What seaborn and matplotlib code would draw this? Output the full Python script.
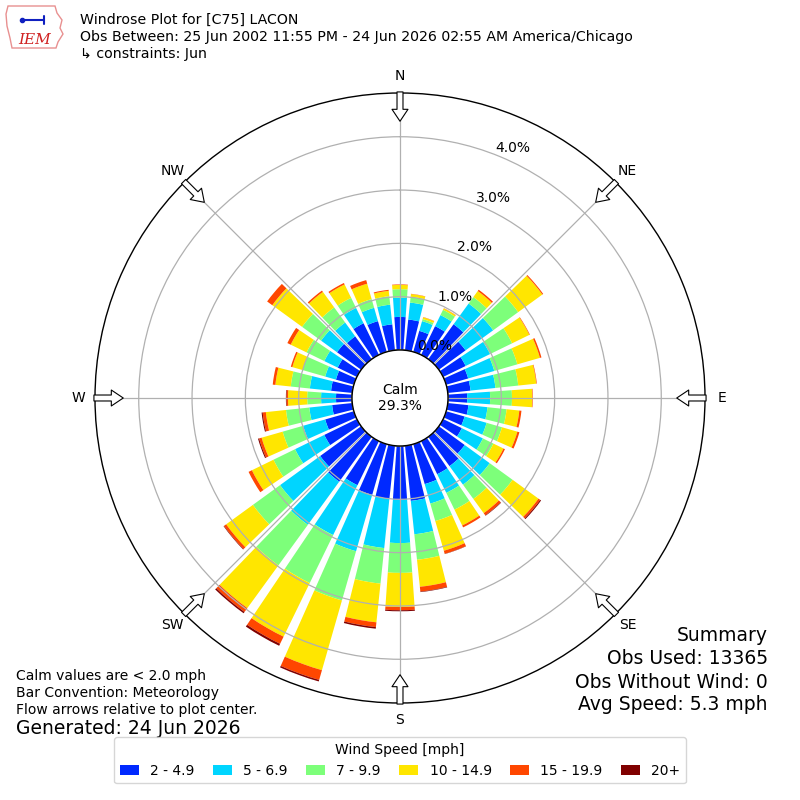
import numpy as np
import matplotlib
matplotlib.use('Agg')
import matplotlib.pyplot as plt
import seaborn as sns
from matplotlib.patches import Circle, Polygon

# wind direction (deg, "from"), 10 degree bins
directions = [0, 10, 20, 30, 40, 50, 60, 70, 80, 90, 100, 110,
              120, 130, 140, 150, 160, 170, 180, 190, 200, 210, 220, 230,
              240, 250, 260, 270, 280, 290, 300, 310, 320, 330, 340, 350]

speed_bins = ['2 - 4.9', '5 - 6.9', '7 - 9.9', '10 - 14.9', '15 - 19.9', '20+']

# frequency (%) per direction for each speed bin
pct_2_5 = [0.62, 0.58, 0.41, 0.60, 0.81, 0.62, 0.47, 0.43, 0.43, 0.36, 0.39, 0.36,
           0.39, 0.60, 0.68, 0.69, 0.78, 1.04, 1.01, 1.00, 0.99, 0.92, 1.04, 0.95,
           0.68, 0.56, 0.38, 0.30, 0.40, 0.35, 0.40, 0.56, 0.53, 0.66, 0.60, 0.49]
pct_5_7 = [0.36, 0.32, 0.19, 0.23, 0.48, 0.64, 0.51, 0.51, 0.47, 0.43, 0.36, 0.43,
           0.44, 0.58, 0.43, 0.39, 0.38, 0.63, 0.81, 0.93, 1.10, 1.04, 1.00, 0.93,
           0.61, 0.43, 0.43, 0.28, 0.40, 0.21, 0.28, 0.37, 0.32, 0.32, 0.26, 0.37]
pct_7_10 = [0.16, 0.11, 0.04, 0.11, 0.15, 0.58, 0.46, 0.45, 0.43, 0.41, 0.36, 0.30,
            0.22, 0.53, 0.33, 0.35, 0.34, 0.48, 0.56, 0.67, 0.96, 1.00, 0.94, 0.63,
            0.45, 0.40, 0.44, 0.26, 0.36, 0.44, 0.37, 0.44, 0.35, 0.21, 0.17, 0.16]
pct_10_15 = [0.08, 0.05, 0.035, 0.03, 0.14, 0.56, 0.36, 0.44, 0.34, 0.38, 0.24, 0.30,
             0.21, 0.60, 0.33, 0.33, 0.58, 0.51, 0.64, 0.73, 1.36, 1.12, 0.99, 0.62,
             0.45, 0.41, 0.38, 0.36, 0.29, 0.20, 0.33, 0.69, 0.36, 0.28, 0.30, 0.10]
pct_15_20 = [0.01, 0.005, 0.005, 0.005, 0.03, 0.02, 0.01, 0.03, 0.01, 0.01, 0.04, 0.04,
             0.03, 0.04, 0.05, 0.04, 0.06, 0.09, 0.06, 0.09, 0.19, 0.15, 0.09, 0.05,
             0.07, 0.05, 0.06, 0.03, 0.05, 0.03, 0.07, 0.12, 0.03, 0.03, 0.07, 0.02]
pct_20_up = [0, 0, 0, 0, 0, 0, 0, 0, 0, 0, 0, 0,
             0, 0.02, 0.01, 0, 0.005, 0.01, 0.02, 0.03, 0.03, 0.04, 0.03, 0.01,
             0, 0.02, 0.02, 0.01, 0, 0, 0, 0, 0, 0, 0, 0]

calm_pct = 29.3
r_ticks = [0, 1, 2, 3, 4]
r_labels = ['0.0%', '1.0%', '2.0%', '3.0%', '4.0%']
compass_deg = [0, 45, 90, 135, 180, 225, 270, 315]
compass = ['N', 'NE', 'E', 'SE', 'S', 'SW', 'W', 'NW']

sns.set_style('white')
plt.rcParams['font.family'] = ['DejaVu Sans']
plt.rcParams['text.color'] = 'black'
plt.rcParams['xtick.color'] = 'black'
plt.rcParams['ytick.color'] = 'black'
plt.rcParams['axes.labelcolor'] = 'black'

fig = plt.figure(figsize=(8, 8), dpi=100)
ax = fig.add_axes([0.11875, 0.12125, 0.7625, 0.7625], projection='polar')
ax.set_theta_zero_location('N')
ax.set_theta_direction(-1)

colors = plt.get_cmap('jet')(np.linspace(1 / 6, 1, 6))
series = [pct_2_5, pct_5_7, pct_7_10, pct_10_15, pct_15_20, pct_20_up]
theta = np.deg2rad(directions)
bottom = np.zeros(len(directions))
for lab, vals, c in zip(speed_bins, series, colors):
    vals = np.array(vals)
    ax.bar(theta, vals, width=np.deg2rad(8), bottom=bottom, color=c,
           label=lab, linewidth=0, zorder=2)
    bottom += vals

rmax = 4.82
ax.set_ylim(0, rmax)
ax.set_rorigin(-0.9)
ax.set_axisbelow(False)
ax.grid(True, color='#b0b0b0', linewidth=0.9)
ax.set_rgrids(r_ticks, r_labels, angle=21.5, fontsize=10)
ax.set_xticks(np.deg2rad(compass_deg))
ax.set_xticklabels(compass, fontsize=10)
ax.tick_params(axis='x', pad=1.5, colors='black')
ax.tick_params(axis='y', colors='black')
for s in ax.spines.values():
    s.set_color('black')
    s.set_linewidth(1)

# calm circle
ax.add_artist(Circle((0.5, 0.5), 48 / 610, transform=ax.transAxes,
                     facecolor='white', edgecolor='black', lw=1,
                     zorder=5, clip_on=False))
ax.text(0.5, 0.5, 'Calm\n%.1f%%' % calm_pct, transform=ax.transAxes,
        ha='center', va='center', fontsize=10, zorder=6)

# flow arrows
for d in compass_deg:
    ax.annotate('', xy=(np.deg2rad(d), rmax - 0.53), xytext=(np.deg2rad(d), rmax + 0.02),
                arrowprops=dict(facecolor='white', edgecolor='black', width=4.3,
                                headwidth=11.5, headlength=8.6, shrink=0, lw=0.8),
                annotation_clip=False, zorder=7)

# header
fig.text(0.1, 0.975, 'Windrose Plot for [C75] LACON', fontsize=10.15, va='center')
fig.text(0.1, 0.954, 'Obs Between: 25 Jun 2002 11:55 PM - 24 Jun 2026 02:55 AM America/Chicago',
         fontsize=10.15, va='center')
fig.text(0.1, 0.9325, '\u21b3 constraints: Jun', fontsize=10.15, va='center')

# logo
lax = fig.add_axes([0.0, 0.935, 0.085, 0.065])
lax.set_xlim(0, 68)
lax.set_ylim(52, 0)
lax.axis('off')
lax.add_patch(Polygon([(8, 6), (55, 6), (57, 13), (62, 20), (60, 28), (63, 34),
                       (58, 42), (56, 48), (12, 48), (10, 38), (7, 26), (6, 14)],
                      closed=True, fill=False, edgecolor='#e89090', lw=1))
lax.plot([22, 44], [20, 20], color='#1020c0', lw=1.5)
lax.plot([22], [20], 'o', color='#1020c0', ms=3)
lax.plot([44, 44], [16, 24], color='#1020c0', lw=1.5)
lax.text(35, 40, 'IEM', ha='center', va='center', fontsize=11, color='#d02020',
         family='DejaVu Serif', style='italic')

# notes
fig.text(0.02, 0.155, 'Calm values are < 2.0 mph', fontsize=10, va='center')
fig.text(0.02, 0.134, 'Bar Convention: Meteorology', fontsize=10, va='center')
fig.text(0.02, 0.1125, 'Flow arrows relative to plot center.', fontsize=10, va='center')
fig.text(0.02, 0.089, 'Generated: 24 Jun 2026', fontsize=13.5, va='center')

fig.text(0.96, 0.206, 'Summary', fontsize=13.5, ha='right', va='center')
fig.text(0.96, 0.1775, 'Obs Used: 13365', fontsize=13.5, ha='right', va='center')
fig.text(0.96, 0.1475, 'Obs Without Wind: 0', fontsize=13.5, ha='right', va='center')
fig.text(0.96, 0.119, 'Avg Speed: 5.3 mph', fontsize=13.5, ha='right', va='center')

fig.legend(loc='lower center', bbox_to_anchor=(0.5, 0.012), ncol=6,
           title='Wind Speed [mph]', fontsize=10, title_fontsize=10,
           handlelength=1.4, columnspacing=1.3, frameon=True)

fig.savefig('out.png', dpi=100)
